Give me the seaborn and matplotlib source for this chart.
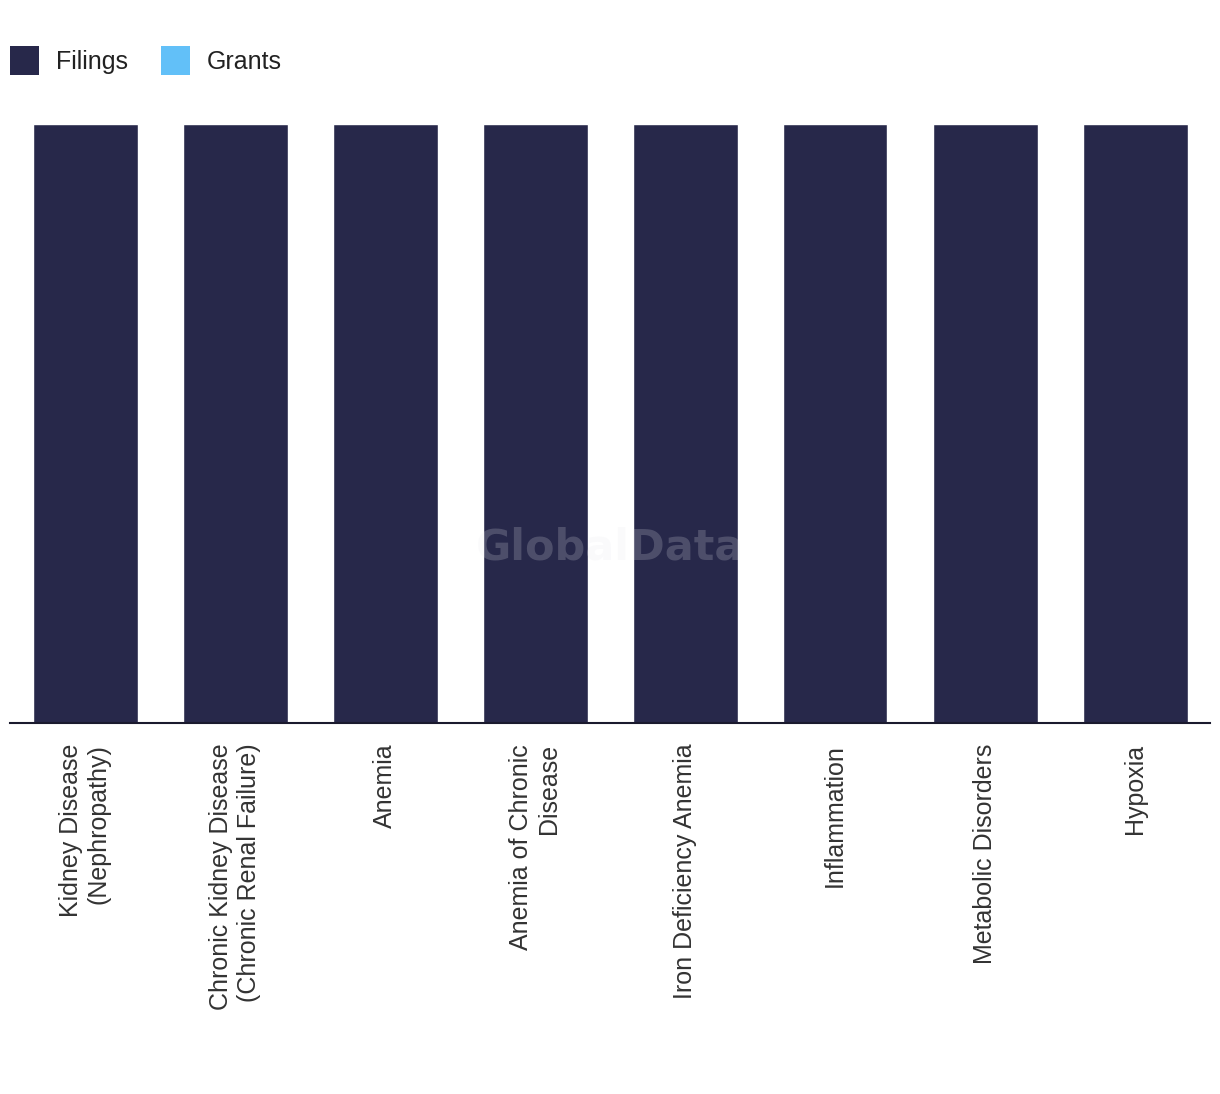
import pandas as pd
import matplotlib
matplotlib.use("Agg")
import matplotlib.pyplot as plt
import seaborn as sns
from matplotlib.patches import Patch

# ---------------------- data ----------------------
categories = [
    "Kidney Disease\n(Nephropathy)",
    "Chronic Kidney Disease\n(Chronic Renal Failure)",
    "Anemia",
    "Anemia of Chronic\nDisease",
    "Iron Deficiency Anemia",
    "Inflammation",
    "Metabolic Disorders",
    "Hypoxia",
]
filings = [1, 1, 1, 1, 1, 1, 1, 1]
grants = [0, 0, 0, 0, 0, 0, 0, 0]
series = ["Filings", "Grants"]
colors = ["#27284a", "#62c0f8"]

df = pd.DataFrame({
    "category": categories * 2,
    "value": filings + grants,
    "series": ["Filings"] * len(categories) + ["Grants"] * len(categories),
})

sns.set_style("white")
plt.rcParams['font.family'] = ['Liberation Sans', 'DejaVu Sans']

fig = plt.figure(figsize=(12.2, 10.94), dpi=100)
ax = fig.add_axes([10 / 1220, (1094 - 723) / 1094, 1200 / 1220, (723 - 124) / 1094])

sns.barplot(data=df, x="category", y="value", hue="series", palette=colors,
            hue_order=series, dodge=False, width=0.7, saturation=1,
            ax=ax, legend=False)

ax.set_xlim(-0.5, len(categories) - 0.5)
ax.set_ylim(0, max(filings))
ax.set_xlabel("")
ax.set_ylabel("")
ax.set_yticks([])
for s in ["top", "right", "left"]:
    ax.spines[s].set_visible(False)
ax.spines["bottom"].set_color("#1a1a2e")
ax.spines["bottom"].set_linewidth(1.5)
ax.tick_params(axis="x", length=0, pad=15)
ax.set_xticks(range(len(categories)))
ax.set_xticklabels(categories, rotation=90, fontsize=18, color="#333333",
                   va="top", ha="center", multialignment="right")

# legend
handles = [Patch(facecolor=c, edgecolor="none") for c in colors]
fig.legend(handles, series, loc="upper left", bbox_to_anchor=(10 / 1220, 1 - 46 / 1094),
           ncol=2, frameon=False, fontsize=18, handlelength=1.15, handleheight=1.4,
           handletextpad=0.7, columnspacing=1.3, labelcolor="#222222",
           borderpad=0, borderaxespad=0)

# watermark
fig.text(610 / 1220, 1 - 547 / 1094, "GlobalData", fontsize=31, fontweight="bold",
         color="#e8e8ee", alpha=0.2, ha="center", va="center",
         family=["DejaVu Sans"])

fig.savefig("out.png", dpi=100)
